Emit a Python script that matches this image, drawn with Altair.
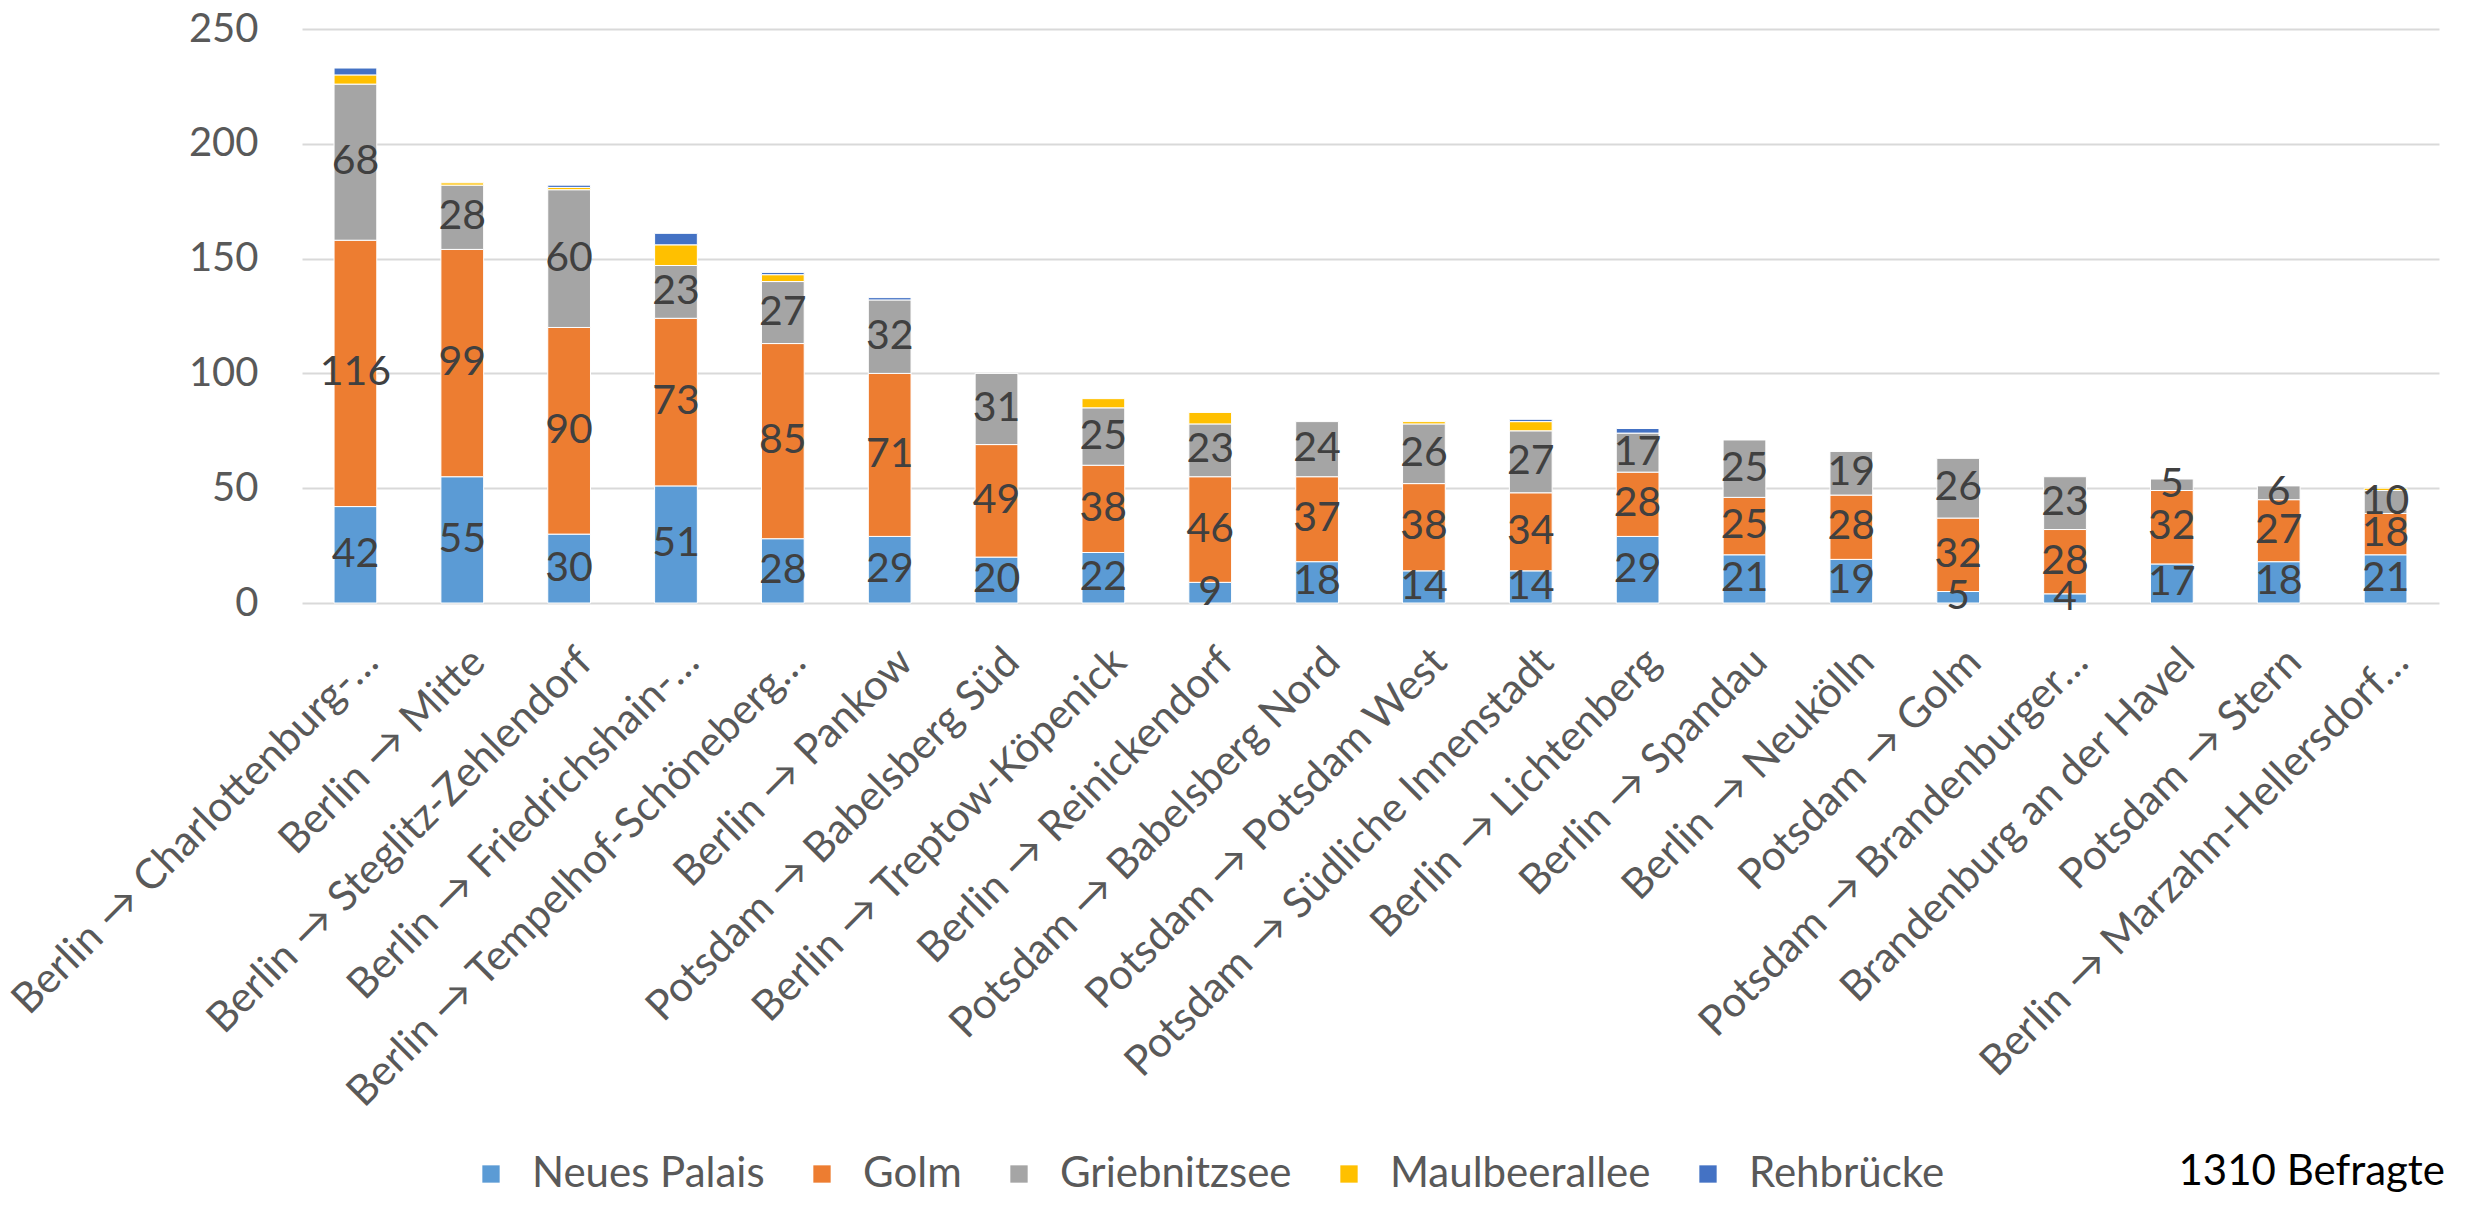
import altair as alt
import pandas as pd

categories = [
    "Berlin → Charlottenburg-…", "Berlin → Mitte", "Berlin → Steglitz-Zehlendorf",
    "Berlin → Friedrichshain-…", "Berlin → Tempelhof-Schöneberg…", "Berlin → Pankow",
    "Potsdam → Babelsberg Süd", "Berlin → Treptow-Köpenick", "Berlin → Reinickendorf",
    "Potsdam → Babelsberg Nord", "Potsdam → Potsdam West", "Potsdam → Südliche Innenstadt",
    "Berlin → Lichtenberg", "Berlin → Spandau", "Berlin → Neukölln", "Potsdam → Golm",
    "Potsdam → Brandenburger…", "Brandenburg an der Havel", "Potsdam → Stern",
    "Berlin → Marzahn-Hellersdorf…",
]

series = ["Neues Palais", "Golm", "Griebnitzsee", "Maulbeerallee", "Rehbrücke"]
colors = ["#5B9BD5", "#ED7D31", "#A5A5A5", "#FFC000", "#4472C4"]

neues_palais = [42, 55, 30, 51, 28, 29, 20, 22, 9, 18, 14, 14, 29, 21, 19, 5, 4, 17, 18, 21]
golm = [116, 99, 90, 73, 85, 71, 49, 38, 46, 37, 38, 34, 28, 25, 28, 32, 28, 32, 27, 18]
griebnitzsee = [68, 28, 60, 23, 27, 32, 31, 25, 23, 24, 26, 27, 17, 25, 19, 26, 23, 5, 6, 10]
maulbeerallee = [4, 1, 1, 9, 3, 0, 0, 4, 5, 0, 1, 4, 0, 0, 0, 0, 0, 0, 0, 1]
rehbruecke = [3, 0, 1, 5, 1, 1, 0, 0, 0, 0, 0, 1, 2, 0, 0, 0, 0, 0, 0, 0]

note_text = ["1310 Befragte"]
y_ticks = [0, 50, 100, 150, 200, 250]

all_vals = [neues_palais, golm, griebnitzsee, maulbeerallee, rehbruecke]
rows = []
for i, c in enumerate(categories):
    base = 0
    for k, s in enumerate(series):
        v = all_vals[k][i]
        rows.append(dict(cat=c, series=s, order=k, value=v, start=base, end=base + v,
                         mid=base + v / 2, label=str(v)))
        base += v
df = pd.DataFrame(rows)
bars_df = df[df.value > 0]
labels_df = df[df.order < 3]

FONT = "Lato"
FS = 41

xscale = alt.Scale(paddingInner=0.6, paddingOuter=0.3)
yscale = alt.Scale(domain=[0, 250])

xaxis = alt.Axis(labelAngle=-45, labelAlign="right", labelBaseline="middle",
                 labelFont=FONT, labelFontSize=42, labelColor="#595959",
                 domain=False, ticks=False, labelPadding=52, labelOffset=16,
                 labelLimit=2000, labelOverlap=False, grid=False)
yaxis = alt.Axis(values=y_ticks, grid=True, gridColor="#d9d9d9", gridWidth=2,
                 domain=False, ticks=False, labelFont=FONT, labelFontSize=40,
                 labelColor="#595959", labelPadding=44)

bars = alt.Chart(bars_df).mark_bar(stroke="white", strokeWidth=1).encode(
    x=alt.X("cat:N", sort=categories, scale=xscale, title=None, axis=xaxis),
    y=alt.Y("start:Q", scale=yscale, title=None, axis=yaxis),
    y2="end:Q",
    color=alt.Color("series:N", scale=alt.Scale(domain=series, range=colors),
                    legend=alt.Legend(orient="none", legendX=168, legendY=1124,
                                      direction="horizontal", columns=5, title=None,
                                      symbolType="square", symbolSize=300,
                                      symbolStrokeWidth=0, labelFont=FONT,
                                      labelFontSize=42, labelColor="#595959",
                                      labelLimit=1000,
                                      columnPadding=36, labelOffset=20)),
    order=alt.Order("order:Q"),
)

labels = alt.Chart(labels_df).mark_text(font=FONT, fontSize=FS, color="#404040",
                                        baseline="middle").encode(
    x=alt.X("cat:N", sort=categories, scale=xscale, title=None, axis=xaxis),
    y=alt.Y("mid:Q", scale=yscale, title=None, axis=yaxis),
    text="label:N",
)

note = alt.Chart(pd.DataFrame({"t": note_text})).mark_text(
    font=FONT, fontSize=42, color="black", align="right", baseline="middle"
).encode(x=alt.value(2143), y=alt.value(1143), text="t:N")

chart = alt.layer(bars, labels, note).properties(
    width=2137, height=574,
    autosize=alt.AutoSizeParams(type="none"),
    padding={"left": 294, "top": 21, "right": 15, "bottom": 595},
).configure_view(stroke=None)

chart.save("out.html", embed_options={"renderer": "svg", "actions": False})
